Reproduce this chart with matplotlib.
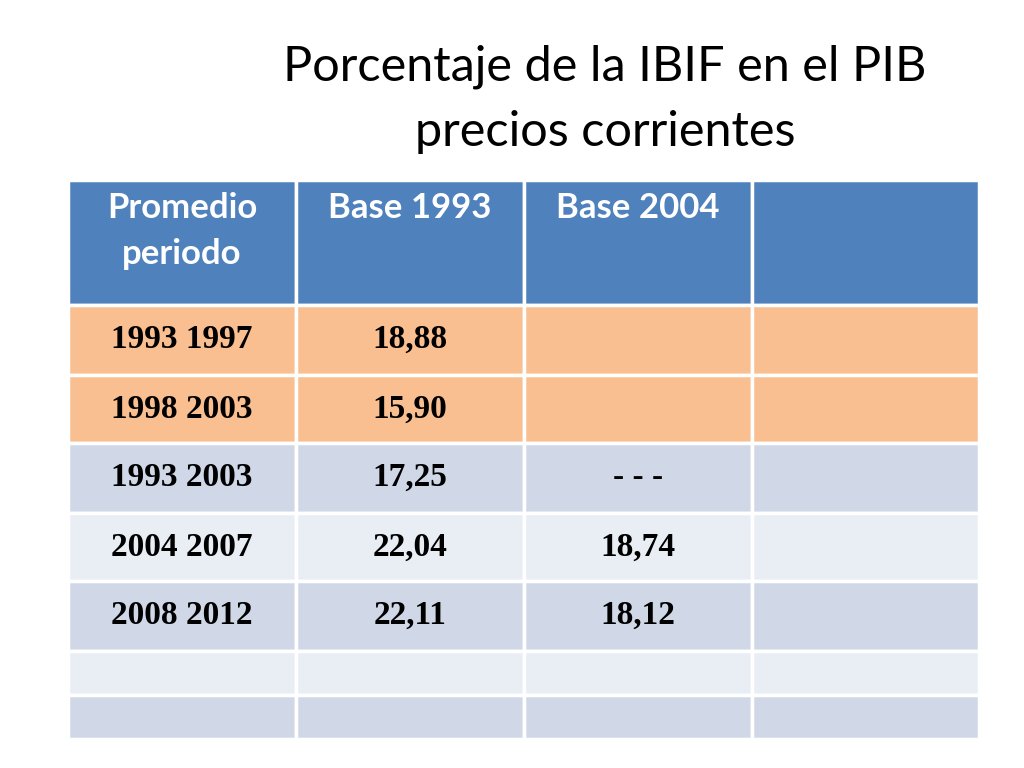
import matplotlib
matplotlib.use("Agg")
import matplotlib.pyplot as plt
from matplotlib.patches import Rectangle

title_lines = ["Porcentaje de la IBIF en el PIB", "precios corrientes"]
headers = ["Promedio\nperiodo", "Base 1993", "Base 2004", ""]
periods = ["1993 1997", "1998 2003", "1993 2003", "2004 2007", "2008 2012", "", ""]
base_1993 = ["18,88", "15,90", "17,25", "22,04", "22,11", "", ""]
base_2004 = ["", "", "- - -", "18,74", "18,12", "", ""]
extra = ["", "", "", "", "", "", ""]
row_colors = ["#F9BF91", "#F9BF91", "#D0D8E8", "#E9EDF4", "#D0D8E8", "#E9EDF4", "#D0D8E8"]

fig = plt.figure(figsize=(10.24, 7.68), dpi=100)
ax = fig.add_axes([0, 0, 1, 1])
ax.set_xlim(0, 1024); ax.set_ylim(768, 0); ax.axis("off")

ax.text(605, 67, title_lines[0], ha="center", va="center", fontsize=35, family="Lato", color="black")
ax.text(605, 132, title_lines[1], ha="center", va="center", fontsize=35, family="Lato", color="black")

col_edges = [68, 296, 524, 752, 979]
row_edges = [180, 305, 375, 443, 513, 581, 651, 695, 739]

for c in range(4):
    x0, x1 = col_edges[c], col_edges[c + 1]
    ax.add_patch(Rectangle((x0, row_edges[0]), x1 - x0, row_edges[1] - row_edges[0],
                           facecolor="#4F81BD", edgecolor="white", lw=2.5))
    if headers[c]:
        ax.text((x0 + x1) / 2, 192, headers[c], ha="center", va="top", fontsize=25,
                family="Lato", weight="bold", color="white", linespacing=1.55)

cols = [periods, base_1993, base_2004, extra]
for r in range(len(periods)):
    y0, y1 = row_edges[r + 1], row_edges[r + 2]
    for c in range(4):
        x0, x1 = col_edges[c], col_edges[c + 1]
        ax.add_patch(Rectangle((x0, y0), x1 - x0, y1 - y0, facecolor=row_colors[r],
                               edgecolor="white", lw=2.5))
        txt = cols[c][r]
        if txt:
            ax.text((x0 + x1) / 2, y0 + 34, txt, ha="center", va="center", fontsize=24,
                    family="Liberation Serif", weight="bold", color="black")

fig.savefig("out.png", dpi=100)
